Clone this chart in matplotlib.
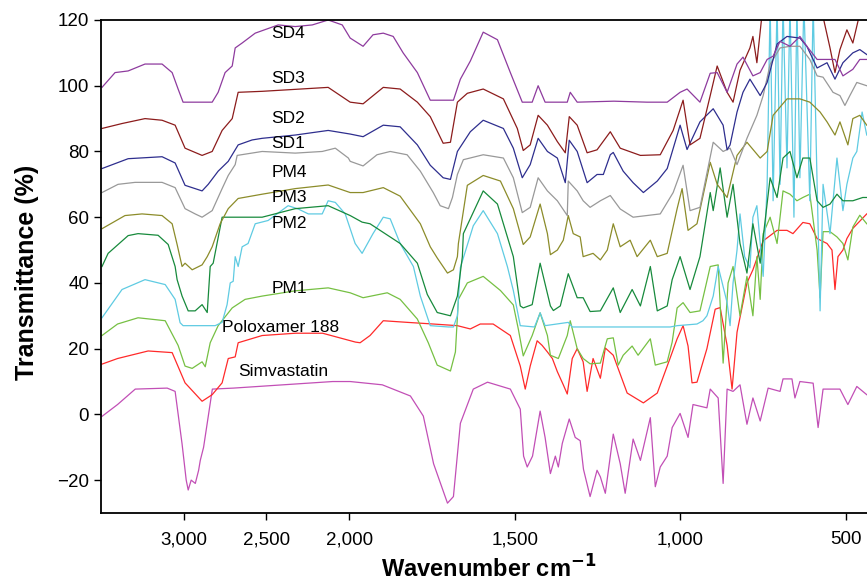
import numpy as np
import matplotlib
matplotlib.use("Agg")
import matplotlib.pyplot as plt

plt.rcParams['font.family'] = ['Liberation Sans', 'DejaVu Sans']

# ---------------- data: (wavenumber cm-1, transmittance %) ----------------
simvastatin = [(3494, -0.6), (3400, 3), (3293, 7.7), (3100, 8), (3052, 7), (3010, -9), (2985, -20),
    (2973, -23), (2955, -20), (2930, -21), (2910, -17), (2900, -14), (2880, -10), (2850, 0), (2827, 7.7),
    (2700, 8), (2400, 9), (2100, 10), (1997, 10), (1900, 9), (1815, 5.6), (1776, -0.5), (1745, -15),
    (1703, -27), (1685, -25), (1664, -2.7), (1625, 7.7), (1582, 9.8), (1513, 7.7), (1483, 1.6),
    (1473, -12.7), (1462, -16), (1446, -12.7), (1423, 1), (1408, -7), (1392, -18), (1377, -12.7),
    (1368, -16), (1356, -8.8), (1335, -1.4), (1317, -7), (1302, -8), (1292, -16.7), (1272, -25),
    (1251, -17), (1241, -19), (1226, -24), (1202, -6), (1181, -15), (1166, -24), (1142, -7.5),
    (1120, -14), (1090, -1), (1075, -22), (1060, -16), (1039, -12.7), (1024, -4), (1000, 0.3),
    (976, -7), (961, 3), (919, 2), (909, 7.7), (885, 5), (870, -21), (858, 7.7), (840, 7), (819, 9),
    (798, -3), (780, 5), (758, -2), (734, 8), (698, 7), (689, 10.8), (662, 10.8), (653, 5), (638, 10),
    (598, 9.5), (583, -4), (568, 7.7), (517, 7.7), (493, 3), (466, 8.5), (436, 6)]

poloxamer = [(3494, 15.3), (3400, 17), (3215, 19.3), (3070, 18.8), (2992, 9.6), (2889, 4), (2828, 6),
    (2768, 9.6), (2731, 17), (2689, 17.5), (2671, 21.8), (2526, 24), (2324, 24.7), (2161, 24.7),
    (1981, 22), (1967, 21.8), (1937, 24), (1897, 28.5), (1824, 28), (1746, 27.5), (1673, 27),
    (1634, 26), (1604, 27.5), (1565, 27.5), (1513, 24), (1483, 14.7), (1468, 7.7), (1453, 14.7),
    (1432, 22.4), (1417, 21), (1401, 19), (1386, 17), (1371, 13), (1353, 9), (1341, 6.2), (1326, 17),
    (1311, 20), (1293, 16), (1281, 7), (1263, 17), (1241, 11), (1226, 20.2), (1202, 18), (1160, 6.5),
    (1111, 3.5), (1069, 6.5), (1039, 14.7), (1009, 23), (991, 27), (976, 20.8), (964, 9.6), (949, 9.8),
    (919, 20), (894, 32), (879, 32.5), (858, 21), (843, 7.7), (828, 25), (798, 40), (780, 44),
    (749, 52.8), (707, 56), (677, 56), (659, 55), (629, 58.4), (608, 58), (586, 53.5), (556, 52),
    (541, 50), (532, 38), (523, 48), (508, 50), (496, 53.5), (478, 56.6), (436, 61)]

pm1 = [(3494, 24), (3400, 27.5), (3276, 29.4), (3112, 28.5), (3034, 21), (2992, 14.7), (2949, 14),
    (2889, 16), (2870, 14.5), (2840, 21.8), (2792, 27), (2707, 32.4), (2629, 35), (2526, 36),
    (2326, 37.6), (2127, 38.5), (1997, 37), (1958, 35.5), (1885, 37), (1846, 35), (1794, 29),
    (1761, 21.8), (1734, 15), (1694, 13.2), (1679, 19), (1670, 35), (1643, 40), (1595, 42),
    (1543, 37.7), (1504, 33.3), (1489, 26), (1474, 17.8), (1447, 24), (1423, 30.9), (1401, 24),
    (1392, 18), (1368, 17), (1341, 24), (1332, 28.5), (1311, 20), (1293, 17), (1272, 15.4),
    (1241, 15.6), (1220, 23), (1202, 23.3), (1187, 15), (1172, 18), (1145, 20.8), (1127, 18),
    (1090, 23), (1075, 15), (1039, 16), (1024, 22), (1009, 32.4), (991, 34), (970, 31), (940, 31.5),
    (925, 38), (909, 45), (885, 45.5), (870, 15.6), (855, 40), (840, 45), (819, 30), (798, 42),
    (780, 30), (768, 48), (758, 35), (749, 55), (728, 60), (707, 52), (689, 68), (668, 67),
    (647, 65), (629, 66), (608, 67), (586, 50), (577, 35.5), (568, 55.6), (547, 55.6), (526, 54),
    (508, 52), (493, 47), (478, 57), (457, 60.6), (436, 58)]

pm2 = [(3494, 29.4), (3373, 38), (3234, 41), (3112, 39.5), (3052, 35), (3022, 27.9), (3004, 27),
    (2900, 27), (2810, 27), (2768, 28), (2738, 33.4), (2719, 40), (2701, 40.5), (2689, 48),
    (2671, 45), (2647, 51), (2611, 52), (2568, 58), (2490, 59), (2369, 63.5), (2308, 62.5),
    (2247, 61), (2163, 61), (2127, 65), (2084, 64.5), (2024, 61), (1982, 52), (1961, 49),
    (1928, 55), (1897, 60), (1876, 59.5), (1846, 52), (1806, 45), (1785, 36), (1755, 27),
    (1700, 26.6), (1685, 26.6), (1673, 30), (1664, 44.7), (1625, 57.4), (1595, 62), (1552, 55),
    (1522, 45), (1504, 37.7), (1483, 27), (1440, 26.6), (1423, 30.9), (1408, 27), (1338, 28),
    (1326, 26.6), (1100, 26.6), (1030, 26.6), (1009, 27), (949, 27.5), (931, 28.5), (919, 30),
    (900, 36), (885, 45), (858, 34), (849, 27), (840, 40), (828, 50), (819, 61), (805, 48),
    (789, 44.6), (780, 60), (768, 63.5), (749, 42), (737, 70), (728, 125), (719, 65), (707, 125),
    (698, 70), (689, 125), (677, 75), (668, 125), (656, 60), (647, 125), (638, 72), (626, 125),
    (608, 65), (598, 125), (586, 70), (577, 31.5), (568, 70), (547, 55), (526, 78), (508, 62),
    (496, 70), (478, 78), (466, 80), (450, 92), (436, 85)]

pm3 = [(3494, 45), (3457, 49), (3336, 54.4), (3276, 55), (3155, 54.5), (3094, 51.7), (3052, 45),
    (3040, 41), (3010, 36), (2973, 31.5), (2931, 31.5), (2889, 33.4), (2858, 31), (2840, 45),
    (2822, 46), (2768, 60), (2689, 60), (2526, 60), (2326, 62.6), (2127, 63.5), (1997, 60.5),
    (1961, 58.5), (1937, 58), (1846, 52), (1794, 46), (1764, 36.5), (1734, 31), (1694, 30),
    (1673, 36), (1658, 48), (1655, 55), (1595, 68), (1552, 64), (1504, 48), (1483, 33),
    (1474, 32.4), (1447, 33.4), (1423, 46), (1392, 33), (1383, 31.6), (1362, 33), (1338, 42.8),
    (1311, 35.5), (1293, 35.5), (1272, 31.3), (1241, 31.5), (1202, 38.5), (1181, 31), (1145, 38),
    (1120, 33), (1090, 45), (1069, 31.5), (1039, 33), (1024, 41), (1000, 48), (970, 38), (940, 48),
    (909, 67.5), (900, 62), (879, 75), (858, 60), (840, 70), (819, 52), (798, 43), (780, 58),
    (758, 46), (728, 72), (707, 66), (689, 78), (668, 80), (647, 72), (629, 78), (608, 78),
    (586, 65), (568, 63), (547, 64), (526, 67), (508, 65), (478, 65), (448, 66), (436, 66)]

pm4 = [(3494, 56.5), (3355, 60.5), (3252, 61), (3131, 60.5), (3070, 58), (3040, 51.7), (3010, 45),
    (2992, 46), (2949, 44), (2889, 45.5), (2858, 48), (2828, 51), (2780, 58), (2731, 62.6),
    (2671, 65.7), (2526, 67), (2326, 68.7), (2127, 69.8), (1997, 67.5), (1958, 67.5), (1897, 69),
    (1846, 66.4), (1785, 58), (1755, 51), (1734, 47.6), (1703, 43), (1685, 44), (1673, 48),
    (1670, 52), (1643, 69.7), (1595, 72.7), (1543, 71), (1504, 62.6), (1474, 51.7), (1453, 54),
    (1423, 64), (1401, 55), (1392, 48.6), (1371, 50), (1353, 53), (1338, 60.5), (1323, 55),
    (1302, 54), (1293, 48), (1263, 49), (1241, 47), (1220, 50), (1202, 58), (1181, 51), (1151, 53),
    (1130, 48), (1090, 53), (1069, 48), (1039, 49), (1009, 62.6), (994, 68.7), (976, 56), (949, 58),
    (909, 76.7), (888, 70), (858, 66), (828, 78.8), (798, 82.8), (758, 78), (737, 80), (719, 91),
    (677, 96), (638, 96), (608, 95), (577, 92), (556, 89), (532, 85), (517, 89), (493, 82),
    (478, 90), (457, 91), (436, 88)]

sd1 = [(3494, 67.5), (3397, 70), (3294, 70.6), (3131, 70.6), (3052, 69), (2992, 62.6), (2931, 61),
    (2889, 60), (2828, 62), (2768, 68.7), (2731, 72.7), (2689, 76), (2677, 78.8), (2526, 80),
    (2326, 79.5), (2163, 80), (2084, 81), (2005, 78), (1997, 77), (1958, 75.6), (1916, 79),
    (1876, 80), (1825, 79), (1785, 74), (1746, 67.5), (1725, 63.5), (1700, 62.6), (1688, 66),
    (1673, 73), (1655, 77.5), (1595, 79), (1534, 78), (1504, 72), (1477, 61.4), (1453, 63),
    (1429, 72), (1401, 68), (1371, 65), (1341, 60.5), (1338, 71), (1311, 68), (1293, 65),
    (1272, 63), (1241, 65), (1211, 66.6), (1181, 62.5), (1142, 60), (1060, 61), (1021, 67.5),
    (991, 75.8), (970, 62), (940, 63), (900, 82.8), (870, 80), (849, 81), (828, 76), (798, 84),
    (768, 91), (749, 97), (728, 106.5), (698, 111.5), (668, 112), (638, 112), (608, 108),
    (586, 103), (568, 102.6), (538, 98), (517, 97), (502, 94), (487, 97), (466, 101), (436, 100)]

sd2 = [(3494, 74.8), (3336, 77.8), (3131, 78.4), (3052, 76.5), (2992, 69.7), (2889, 68), (2852, 70),
    (2792, 74), (2731, 77), (2671, 82), (2587, 83.5), (2526, 84), (2326, 85), (2127, 86.4),
    (1997, 85.3), (1958, 84.5), (1897, 88), (1846, 87.5), (1794, 82), (1755, 75.8), (1716, 72),
    (1694, 71.5), (1673, 80), (1634, 86), (1595, 89.5), (1534, 87), (1504, 81), (1477, 72),
    (1453, 76), (1429, 84), (1401, 80), (1371, 78), (1347, 70.5), (1335, 83.4), (1311, 80),
    (1281, 70.5), (1251, 73), (1232, 73), (1211, 79), (1202, 79.7), (1172, 74), (1142, 70.5),
    (1111, 67.5), (1069, 71), (1039, 74.8), (1000, 88), (979, 80.6), (940, 89), (900, 93), (870, 88),
    (858, 80.5), (849, 82), (828, 92), (810, 98), (789, 102), (758, 97), (737, 101), (707, 112.7),
    (677, 115), (638, 114.5), (617, 112), (586, 105.4), (556, 107), (532, 102), (508, 107),
    (478, 110), (457, 111), (436, 109.5)]

sd3 = [(3494, 87), (3373, 88.5), (3234, 90), (3131, 89.5), (3052, 88), (2992, 81), (2889, 78.8),
    (2828, 80), (2768, 86.4), (2707, 90), (2671, 98), (2526, 98.3), (2326, 98.9), (2127, 99.5),
    (1997, 95), (1958, 94.5), (1897, 99.5), (1846, 99), (1794, 95), (1755, 90.6), (1716, 82.5),
    (1694, 82.8), (1673, 95), (1643, 97.7), (1595, 99), (1534, 96), (1492, 87), (1474, 80.3),
    (1453, 82), (1429, 91), (1401, 88), (1371, 83), (1347, 79.6), (1335, 90.6), (1311, 88),
    (1281, 79.6), (1251, 80.5), (1211, 86), (1181, 81), (1120, 78.8), (1060, 79), (1021, 86.4),
    (991, 95.6), (970, 82), (940, 84), (909, 97), (888, 106), (858, 98), (840, 95), (819, 104.7),
    (789, 111.5), (780, 115), (768, 107), (749, 125), (700, 125), (660, 125), (617, 125),
    (577, 125), (547, 111.5), (532, 104), (517, 111), (496, 117), (478, 113), (457, 122), (436, 122)]

sd4 = [(3494, 99.5), (3415, 104), (3336, 104.5), (3234, 106.6), (3131, 106.6), (3070, 104),
    (3034, 99), (3004, 95), (2900, 95), (2828, 95), (2792, 98), (2750, 104), (2707, 106),
    (2689, 111.5), (2647, 113), (2568, 116), (2429, 118.5), (2326, 118), (2223, 118.5), (2127, 120),
    (2042, 118.5), (1997, 114.5), (1958, 112), (1928, 115.5), (1897, 116), (1867, 115), (1837, 110),
    (1794, 104), (1755, 95.6), (1685, 95.6), (1664, 102), (1634, 107.5), (1595, 116.3),
    (1552, 114), (1513, 104), (1477, 95), (1447, 95), (1429, 100), (1408, 95), (1341, 95),
    (1332, 98), (1311, 95), (1200, 95.3), (1100, 95), (1039, 95), (1000, 98), (979, 99), (940, 95),
    (909, 103.8), (888, 104), (858, 98), (828, 106.6), (810, 108.7), (780, 103), (758, 104),
    (737, 108), (719, 109), (698, 113.5), (668, 112), (638, 115), (617, 112), (586, 108),
    (556, 108), (532, 108), (508, 103), (478, 105), (457, 108), (436, 108)]

series_names = ["Simvastatin", "Poloxamer 188", "PM1", "PM2", "PM3", "PM4", "SD1", "SD2", "SD3", "SD4"]
series_data = [simvastatin, poloxamer, pm1, pm2, pm3, pm4, sd1, sd2, sd3, sd4]
series_colors = ["#c24fb6", "#ff2a2a", "#76c043", "#5fcbe2", "#178a3c", "#8c8c2a",
                 "#999999", "#2e2e8e", "#8c1c1c", "#8e3b9e"]
# label anchor (wavenumber, transmittance)
label_pos = [(2671, 13.2), (2767, 26.3), (2471, 38.2), (2471, 58), (2471, 66), (2471, 73.6),
             (2471, 82.5), (2471, 90), (2471, 102.3), (2471, 116)]

xticks = [3000, 2500, 2000, 1500, 1000, 500]
xtick_labels = ["3,000", "2,500", "2,000", "1,500", "1,000", "500"]
yticks = [-20, 0, 20, 40, 60, 80, 100, 120]

# ---------------- plotting ----------------
def fwd(x):
    x = np.asarray(x, dtype=float)
    return np.where(x <= 2000, x, 2000 + (x - 2000) / 2.0)

def inv(y):
    y = np.asarray(y, dtype=float)
    return np.where(y <= 2000, y, 2000 + (y - 2000) * 2.0)

fig = plt.figure(figsize=(8.67, 5.84), dpi=100)
ax = fig.add_axes([101 / 867, 1 - 513 / 584, (867 - 101) / 867 + 0.002, (513 - 20) / 584])
ax.set_xscale('function', functions=(fwd, inv))

for data, col in zip(series_data, series_colors):
    arr = np.array(data, dtype=float)
    ax.plot(arr[:, 0], arr[:, 1], color=col, lw=0.9)

for name, (lx, ly) in zip(series_names, label_pos):
    ax.text(lx, ly, name, fontsize=12.5, ha='left', va='center', color='black')

ax.set_xlim(3500, 430)
ax.set_ylim(-30, 120)
ax.set_xticks(xticks)
ax.set_xticklabels(xtick_labels)
ax.set_yticks(yticks)
ax.minorticks_off()
ax.tick_params(axis='both', direction='out', length=5, width=1, labelsize=13.5, color='black')
ax.tick_params(axis='x', pad=8)
for s in ['left', 'bottom', 'top']:
    ax.spines[s].set_linewidth(1.3)
ax.spines['right'].set_visible(False)

fig.text(27 / 867, 1 - 272 / 584, "Transmittance (%)", rotation=90, ha='center', va='center',
         fontsize=18, fontweight='bold')
fig.text(489 / 867, 1 - 569 / 584, r"Wavenumber cm$^{\mathbf{-1}}$", ha='center', va='center',
         fontsize=17, fontweight='bold')

fig.savefig("out.png", dpi=100)
